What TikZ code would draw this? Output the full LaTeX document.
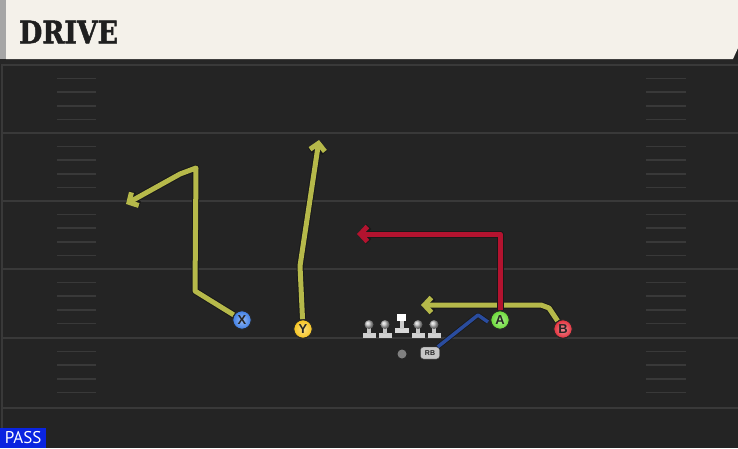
\documentclass[tikz,border=0pt]{standalone}
\usepackage{fontspec}
\setmainfont{Liberation Sans}
\newfontfamily\headfont[BoldFeatures={FakeBold=1.6}]{DejaVu Serif}
\newfontfamily\passfont{PT Sans}
\usetikzlibrary{arrows.meta}
\definecolor{field}{HTML}{242424}
\definecolor{yline}{HTML}{393939}
\definecolor{header}{HTML}{F4F1EA}
\definecolor{route}{HTML}{B6B94A}
\definecolor{redroute}{HTML}{B3132F}
\definecolor{blueroute}{HTML}{2A4C9E}
\definecolor{xblue}{HTML}{3F7FE6}
\definecolor{yyellow}{HTML}{F6C41E}
\definecolor{agreen}{HTML}{6ADB36}
\definecolor{bred}{HTML}{E3303C}
\definecolor{passblue}{HTML}{0A24E0}
\tikzset{
  player/.style={circle, draw=black!85, line width=1pt, minimum size=18.5pt, inner sep=0pt,
    font=\bfseries\fontsize{13}{13}\selectfont, text=black!85},
  pfill/.style={inner color=#1!55!white, outer color=#1},
  outline/.style={line width=7pt, black!90, line join=round},
  rt/.style={line width=5pt, line join=round},
  tip/.style={-{Straight Barb[length=7pt,width=15pt]}},
  hash/.style={yline, line width=1.6pt},
  yard/.style={yline, line width=2pt},
}
\begin{document}
\begin{tikzpicture}[x=1pt,y=-1pt]
\useasboundingbox (0,0) rectangle (738,448);
\fill[field] (0,0) rectangle (738,448);
% field edges
\draw[yline, line width=2pt] (1.5,60) -- (1.5,448);
% yard lines
\foreach \y in {65,133,201,269,338,408} \draw[yard] (3,\y) -- (738,\y);
% hash marks
\foreach \b in {65,133,201,269,338} {
  \foreach \k in {1,2,3,4} {
    \draw[hash] (57,\b+13.6*\k) -- (96,\b+13.6*\k);
    \draw[hash] (646,\b+13.6*\k) -- (686,\b+13.6*\k);
  }
}
% header
\fill[black!85] (0,58) rectangle (738,64);
\fill[header] (6,0) -- (738,0) -- (738,48) -- (733,59) -- (6,59) -- cycle;
\fill[black!35] (0,0) rectangle (6,59);
\node[anchor=west, inner sep=0pt, font=\headfont\bfseries\fontsize{31}{31}\selectfont, text=black!88, xscale=0.86] (title) at (19,32) {DRIVE};
% PASS label
\node[fill=passblue, text=white, anchor=south west, inner sep=0pt, minimum width=46pt, minimum height=20pt,
  font=\passfont\fontsize{17}{17}\selectfont] (pass) at (0,448) {PASS};
% players
\node[player, pfill=xblue] (X) at (242,320) {X};
\node[player, pfill=yyellow] (Y) at (303,329) {Y};
\node[player, pfill=agreen] (A) at (500,320) {A};
\node[player, pfill=bred] (B) at (563,329) {B};
\node[fill=black!22, draw=black!70, rounded corners=3pt, inner sep=0pt, minimum width=19pt, minimum height=12pt,
  font=\bfseries\fontsize{7}{7}\selectfont, text=black!85] (RB) at (430,353) {RB};
\node[circle, fill=black!50, inner sep=0pt, minimum size=9pt] (QB) at (402,354) {};
% linemen
\foreach \x in {369,385,418,434} {
  \fill[black!18] (\x-6.5,332.5) rectangle (\x+6.5,338);
  \fill[black!22] (\x-2,325) rectangle (\x+2,334);
  \shade[ball color=black!25] (\x,324.5) circle (4.5pt);
}
\fill[black!15] (395,327.5) rectangle (409,333);
\fill[black!20] (400,320) rectangle (404,329);
\fill[white] (397,314) rectangle (406,321);
% route waypoints
\coordinate (x1) at (195,291);
\coordinate (x2) at (196,168);
\coordinate (x3) at (180,174);
\coordinate (x4) at (126,204);
\coordinate (y1) at (300,266);
\coordinate (y2) at (319,140);
\coordinate (b1) at (549,308);
\coordinate (b2) at (541,305);
\coordinate (b3) at (421,305);
\coordinate (a1) at (500,234);
\coordinate (a2) at (357,234);
\coordinate (r1) at (478,315);
\coordinate (r2) at (488,322);
% X route
\draw[outline, tip] (X) -- (x1) -- (x2) -- (x3) -- (x4);
\draw[rt, route, tip] (X) -- (x1) -- (x2) -- (x3) -- (x4);
% Y route
\draw[outline, tip] (Y) -- (y1) -- (y2);
\draw[rt, route, tip] (Y) -- (y1) -- (y2);
% B route
\draw[outline, tip] (B) -- (b1) -- (b2) -- (b3);
\draw[rt, route, tip] (B) -- (b1) -- (b2) -- (b3);
% A route
\draw[outline, tip] (A) -- (a1) -- (a2);
\draw[rt, redroute, tip] (A) -- (a1) -- (a2);
% RB route
\draw[line width=5pt, black!90, line join=round] (RB) -- (r1) -- (r2);
\draw[line width=3.5pt, blueroute, line join=round] (RB) -- (r1) -- (r2);
% redraw players on top
\node[player, pfill=agreen] at (500,320) {A};
\node[player, pfill=bred] at (563,329) {B};
\node[player, pfill=xblue] at (242,320) {X};
\node[player, pfill=yyellow] at (303,329) {Y};
\end{tikzpicture}
\end{document}
